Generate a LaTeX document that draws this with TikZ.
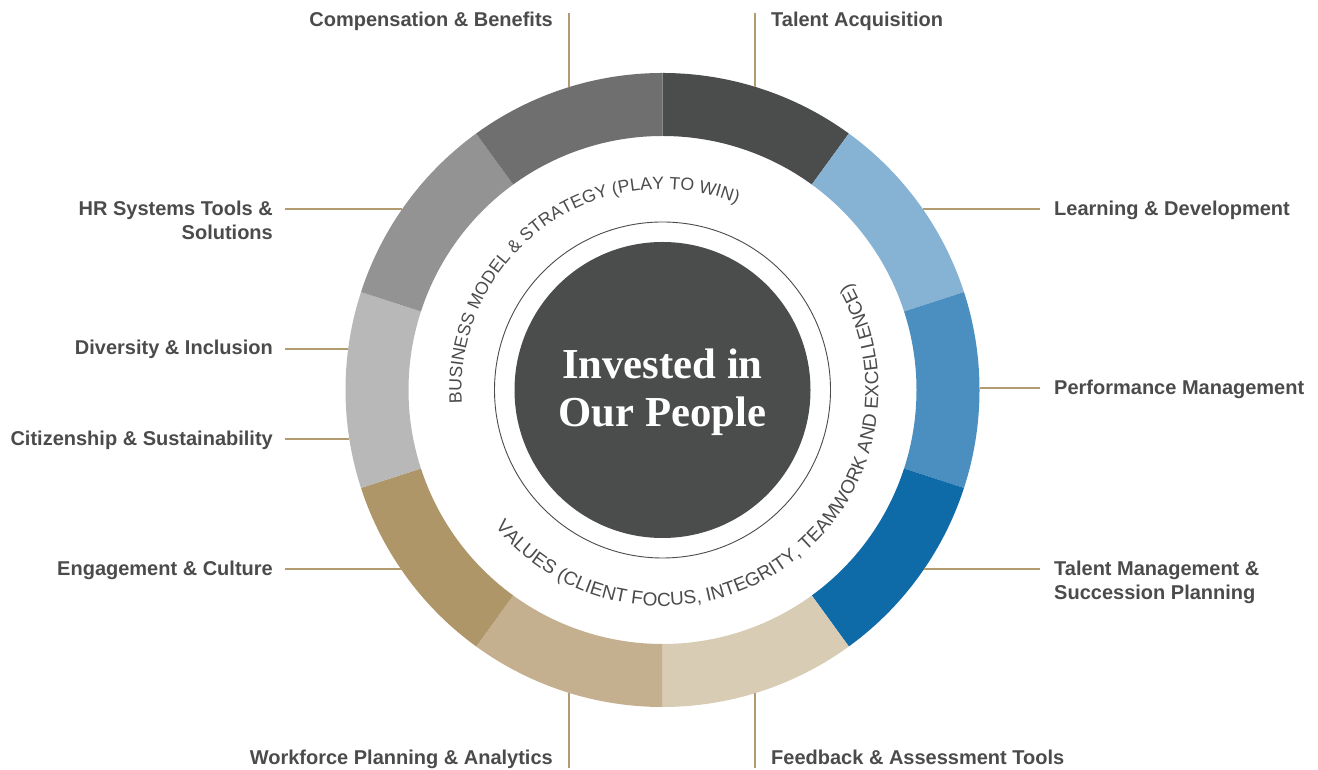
\documentclass[tikz,border=0pt]{standalone}
\usepackage{fontspec}
\usetikzlibrary{decorations.text}
\newfontfamily\labelfont{Liberation Sans}
\newfontfamily\centerfont{Liberation Serif}
\newfontfamily\curvefont{Liberation Sans}
\definecolor{segA}{HTML}{4B4D4C}
\definecolor{segB}{HTML}{86B3D4}
\definecolor{segC}{HTML}{4A8FC0}
\definecolor{segD}{HTML}{0F6BA8}
\definecolor{segE}{HTML}{D9CCB5}
\definecolor{segF}{HTML}{C4B08F}
\definecolor{segG}{HTML}{AF9669}
\definecolor{segH}{HTML}{B7B8B7}
\definecolor{segI}{HTML}{939393}
\definecolor{segJ}{HTML}{6F6F6F}
\definecolor{txt}{HTML}{4B4B4B}
\definecolor{lead}{HTML}{B39B70}
\definecolor{core}{HTML}{4B4D4C}
\tikzset{
  lbl/.style={inner sep=0pt, text=txt, font=\labelfont\bfseries\fontsize{20}{24}\selectfont},
  leader/.style={draw=lead, line width=2pt},
}
\newcommand{\ringseg}[3]{\fill[#3] (#1:317) arc[start angle=#1, end angle=#2, radius=317] -- (#2:254) arc[start angle=#2, end angle=#1, radius=254] -- cycle;}
\begin{document}
\begin{tikzpicture}[x=1pt,y=1pt]
\useasboundingbox (0,0) rectangle (1318,770);
\begin{scope}[shift={(662.5,380)}]
  \ringseg{90}{54}{segA}
  \ringseg{54}{18}{segB}
  \ringseg{18}{-18}{segC}
  \ringseg{-18}{-54}{segD}
  \ringseg{-54}{-90}{segE}
  \ringseg{-90}{-126}{segF}
  \ringseg{-126}{-162}{segG}
  \ringseg{-162}{-198}{segH}
  \ringseg{162}{126}{segI}
  \ringseg{126}{90}{segJ}
  \draw[txt, line width=0.9pt] (0,0) circle[radius=168];
  \fill[core] (0,0) circle[radius=148];
  \path[decorate, decoration={text along path, text align=center,
    text={|\curvefont\fontsize{17.7}{20}\selectfont\color{txt}|BUSINESS MODEL {\&} STRATEGY (PLAY TO WIN)}}]
    (196:201) arc[start angle=196, end angle=56, radius=201];
  \path[decorate, decoration={text along path, text align=center,
    text={|\curvefont\fontsize{19}{20}\selectfont\color{txt}|VALUES (CLIENT FOCUS, INTEGRITY, TEAMWORK AND EXCELLENCE)}}]
    (-145.5:216) arc[start angle=-145.5, end angle=34.5, radius=216];
\end{scope}
\node[anchor=base, inner sep=0pt, text=white] (core) at (662.5,391)
  {\centerfont\bfseries\fontsize{42.7}{48}\selectfont\begin{tabular}[t]{@{}c@{}}Invested in\\Our People\end{tabular}};
% labels
\node[lbl, anchor=base east] (comp) at (553,743) {Compensation \& Benefits};
\node[lbl, anchor=base west] (acq) at (771,743) {Talent Acquisition};
\node[lbl, anchor=base east] (hrs) at (273,554) {\begin{tabular}[t]{@{}r@{}}HR Systems Tools \&\\Solutions\end{tabular}};
\node[lbl, anchor=base west] (learn) at (1054,554) {Learning \& Development};
\node[lbl, anchor=base east] (div) at (273,415) {Diversity \& Inclusion};
\node[lbl, anchor=base west] (perf) at (1054,375) {Performance Management};
\node[lbl, anchor=base east] (cit) at (273,324) {Citizenship \& Sustainability};
\node[lbl, anchor=base east] (eng) at (273,194) {Engagement \& Culture};
\node[lbl, anchor=base west] (tm) at (1054,194) {\begin{tabular}[t]{@{}l@{}}Talent Management \&\\Succession Planning\end{tabular}};
\node[lbl, anchor=base east] (wf) at (553,5) {Workforce Planning \& Analytics};
\node[lbl, anchor=base west] (fb) at (771,5) {Feedback \& Assessment Tools};
% leader ends
\coordinate (compA) at (569,757);   \coordinate (compB) at (569,682.9);
\coordinate (acqA) at (755,757);    \coordinate (acqB) at (755,683.2);
\coordinate (hrsA) at (285,561);    \coordinate (hrsB) at (402.3,561);
\coordinate (learnA) at (1040,561); \coordinate (learnB) at (922.7,561);
\coordinate (divA) at (285,421);    \coordinate (divB) at (348.2,421);
\coordinate (perfA) at (1040,382);  \coordinate (perfB) at (979.5,382);
\coordinate (citA) at (285,331);    \coordinate (citB) at (349.3,331);
\coordinate (engA) at (285,201);    \coordinate (engB) at (400.9,201);
\coordinate (tmA) at (1040,201);    \coordinate (tmB) at (924.1,201);
\coordinate (wfA) at (569,2);       \coordinate (wfB) at (569,77.1);
\coordinate (fbA) at (755,2);       \coordinate (fbB) at (755,76.8);
\foreach \n in {comp,acq,hrs,learn,div,perf,cit,eng,tm,wf,fb}
  \draw[leader] (\n A) -- (\n B);
\end{tikzpicture}
\end{document}
